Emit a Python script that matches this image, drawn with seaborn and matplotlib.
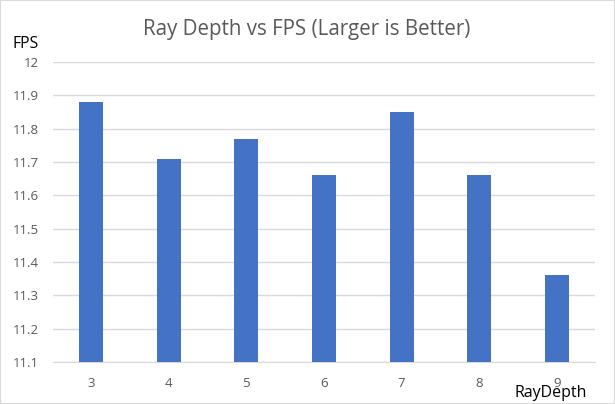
import matplotlib
matplotlib.use("Agg")
import matplotlib.pyplot as plt
import seaborn as sns
import pandas as pd

ray_depth = ["3", "4", "5", "6", "7", "8", "9"]
fps = [11.88, 11.71, 11.77, 11.66, 11.85, 11.66, 11.36]
y_ticks = [11.1, 11.2, 11.3, 11.4, 11.5, 11.6, 11.7, 11.8, 11.9, 12.0]
y_tick_labels = ["11.1", "11.2", "11.3", "11.4", "11.5", "11.6", "11.7", "11.8", "11.9", "12"]

sns.set_style("white")
plt.rcParams['font.family'] = ['Open Sans', 'DejaVu Sans']

df = pd.DataFrame({"RayDepth": ray_depth, "FPS": fps})

fig = plt.figure(figsize=(6.15, 4.04), dpi=100)
ax = fig.add_axes([53/615, 1 - 362/404, 542/615, 300/404])

sns.barplot(data=df, x="RayDepth", y="FPS", color="#4472C4", width=0.31,
            saturation=1, ax=ax, zorder=3)
# bars start at axis bottom
for p in ax.patches:
    p.set_y(11.1)
    p.set_height(p.get_height() - 11.1)
    p.set_linewidth(0)

ax.set_ylim(11.1, 12.0)
ax.set_xlim(-0.489, 6.489)
ax.set_yticks(y_ticks)
ax.set_yticklabels(y_tick_labels)
ax.yaxis.grid(True, color="#D9D9D9", linewidth=1, zorder=0)
for s in ["top", "right", "left"]:
    ax.spines[s].set_visible(False)
ax.spines["bottom"].set_color("#D9D9D9")
ax.tick_params(axis="both", length=0, labelsize=9.5, colors="#595959")
ax.tick_params(axis="x", pad=11)
ax.tick_params(axis="y", pad=10)
ax.set_xlabel("")
ax.set_ylabel("")

fig.text(307/615, 1 - 29/404, "Ray Depth vs FPS (Larger is Better)", ha="center", va="center",
         fontsize=14.8, color="#595959")
fig.text(12/615, 1 - 44/404, "FPS", ha="left", va="center", fontsize=11.3, color="#000000")
fig.text(515/615, 1 - 397/404, "RayDepth", ha="left", va="baseline", fontsize=11.5, color="#000000")

fig.patches.append(plt.Rectangle((0, 0), 1, 1, transform=fig.transFigure, fill=False,
                                 edgecolor="#D9D9D9", linewidth=1.5))

fig.savefig("out.png", dpi=100, facecolor="white")
